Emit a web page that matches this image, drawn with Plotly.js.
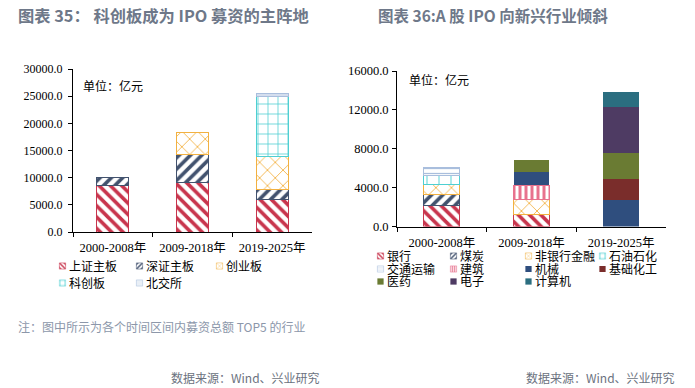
<!DOCTYPE html>
<html>
<head>
<meta charset="utf-8">
<script src="https://cdn.plot.ly/plotly-3.0.1.min.js"></script>
<style>
html,body{margin:0;padding:0;background:#fff;}
#chart{width:695px;height:388px;}
</style>
</head>
<body>
<div id="chart"></div>
<script>
// ---- Data: chart 35 (left) ----
const periods = ['2000-2008年', '2009-2018年', '2019-2025年'];
const boardNames = ['上证主板', '深证主板', '创业板', '科创板', '北交所'];
const shMain   = [8600, 9200, 6000];
const szMain   = [1350, 5000, 1800];
const chiNext  = [null, 4050, 6100];
const star     = [null, null, 11000];
const bse      = [null, null, 500];

// ---- Data: chart 36 (right) ----
const industryNames = ['银行', '煤炭', '非银行金融', '石油石化', '交通运输', '建筑', '机械', '基础化工', '医药', '电子', '计算机'];
const bank        = [2160, 1240, null];
const coal        = [1090, null, null];
const nonbank     = [1030, 1540, null];
const petro       = [970, null, null];
const transport   = [820, null, null];
const construct   = [null, 1440, null];
const machinery   = [null, 1400, 2710];
const chemicals   = [null, null, 2160];
const pharma      = [null, 1240, 2680];
const electronics = [null, null, 4740];
const computer    = [null, null, 1570];

const yTicksLeft = [0, 5000, 10000, 15000, 20000, 25000, 30000];
const yTicksRight = [0, 4000, 8000, 12000, 16000];

// ---- Styles ----
const RED = '#C8354D', NAVY = '#42526E', ORANGE = '#F2B141', TEAL = '#4ECFD2', LBLUE = '#A9BEDD', PINK = '#E8728E';
const styles = {
  '上证主板': {shape: '\\', fg: RED, size: 8, sol: 0.45},
  '深证主板': {shape: '/', fg: NAVY, size: 8, sol: 0.45},
  '创业板': {shape: 'x', fg: ORANGE, size: 11, sol: 0.15},
  '科创板': {shape: '+', fg: TEAL, size: 10, sol: 0.15},
  '北交所': {shape: '-', fg: LBLUE, size: 4, sol: 0.25},
  '银行': {shape: '\\', fg: RED, size: 8, sol: 0.45},
  '煤炭': {shape: '/', fg: NAVY, size: 8, sol: 0.45},
  '非银行金融': {shape: 'x', fg: ORANGE, size: 11, sol: 0.15},
  '石油石化': {shape: '+', fg: TEAL, size: 12, sol: 0.15},
  '交通运输': {shape: '-', fg: LBLUE, size: 5, sol: 0.25},
  '建筑': {shape: '|', fg: PINK, size: 6, sol: 0.5},
  '机械': {solid: '#2F4E7E'},
  '基础化工': {solid: '#7A2D2B'},
  '医药': {solid: '#6A7B33'},
  '电子': {solid: '#4E3B63'},
  '计算机': {solid: '#2B6E80'}
};

// legend entry positions (text left x, row centre y) in px
const legendPos = {
  '上证主板': [69, 266], '深证主板': [146, 266], '创业板': [226, 266],
  '科创板': [69, 283], '北交所': [146, 283],
  '银行': [387, 256], '煤炭': [460, 256], '非银行金融': [535, 256], '石油石化': [609, 256],
  '交通运输': [387, 269], '建筑': [460, 269], '机械': [535, 269], '基础化工': [609, 269],
  '医药': [387, 281.5], '电子': [460, 281.5], '计算机': [535, 281.5]
};

const W = 695, H = 388;
const px = v => v / W, py = v => 1 - v / H;
const CJK = '"Noto Sans CJK SC", sans-serif';
const SERIF = '"Liberation Serif", "Noto Sans CJK SC", serif';

let legendCount = 0;
const legendLayouts = {};
function barTrace(name, values, xa, ya) {
  const s = styles[name];
  legendCount += 1;
  const lid = legendCount === 1 ? 'legend' : 'legend' + legendCount;
  const pos = legendPos[name];
  legendLayouts[lid] = {x: px(pos[0] - 40), y: py(pos[1]), xanchor: 'left', yanchor: 'middle', orientation: 'v',
    font: {family: CJK, size: 12, color: '#000'}, bgcolor: 'rgba(0,0,0,0)', borderwidth: 0,
    itemclick: false, itemdoubleclick: false};
  const marker = s.solid
    ? {color: s.solid, line: {width: 0}}
    : {color: '#ffffff', line: {color: s.fg, width: 1},
       pattern: {shape: s.shape, fgcolor: s.fg, bgcolor: '#ffffff', fgopacity: 1, size: s.size, solidity: s.sol, fillmode: 'replace'}};
  return {type: 'bar', name: name, x: periods, y: values, xaxis: xa, yaxis: ya, legend: lid, marker: marker, hoverinfo: 'skip'};
}

const leftSeries = [shMain, szMain, chiNext, star, bse];
const rightSeries = [bank, coal, nonbank, petro, transport, construct, machinery, chemicals, pharma, electronics, computer];

const traces = [];
boardNames.forEach((n, i) => traces.push(barTrace(n, leftSeries[i], 'x', 'y')));
industryNames.forEach((n, i) => traces.push(barTrace(n, rightSeries[i], 'x2', 'y2')));

const xaxisCommon = {type: 'category', showline: true, linecolor: '#000', linewidth: 1, ticks: 'outside', ticklen: 4, tickcolor: '#000',
  tickson: 'boundaries', showgrid: false, zeroline: false, ticklabelstandoff: 4,
  tickfont: {family: SERIF, size: 12.5, color: '#000'}, fixedrange: true};
const yaxisCommon = {showline: true, linecolor: '#000', linewidth: 1, ticks: 'outside', ticklen: 4, tickcolor: '#000',
  showgrid: false, zeroline: false, tickformat: '.1f', fixedrange: true};

const layout = Object.assign({
  width: W, height: H,
  margin: {l: 0, r: 0, t: 0, b: 0},
  paper_bgcolor: '#fff', plot_bgcolor: '#fff',
  barmode: 'stack', bargap: 0.6,
  showlegend: true,
  xaxis: Object.assign({}, xaxisCommon, {domain: [px(73), px(312)], anchor: 'y'}),
  yaxis: Object.assign({}, yaxisCommon, {domain: [py(232), py(69)], range: [0, 30000], tickvals: yTicksLeft, anchor: 'x',
    ticklabelstandoff: 3, tickfont: {family: SERIF, size: 12, color: '#000'}}),
  xaxis2: Object.assign({}, xaxisCommon, {domain: [px(397), px(666)], anchor: 'y2'}),
  yaxis2: Object.assign({}, yaxisCommon, {domain: [py(226.5), py(71)], range: [0, 16000], tickvals: yTicksRight, anchor: 'x2',
    ticklabelstandoff: 1, tickfont: {family: SERIF, size: 12.5, color: '#000'}}),
  annotations: [
    {text: '图表 35：\u00a0科创板成为 IPO 募资的主阵地', xref: 'paper', yref: 'paper', x: px(16), y: py(15), xanchor: 'left', yanchor: 'middle', showarrow: false,
     font: {family: CJK, size: 16.3, color: '#6E7889', weight: 'bold'}},
    {text: '图表 36:A 股 IPO 向新兴行业倾斜', xref: 'paper', yref: 'paper', x: px(376), y: py(15), xanchor: 'left', yanchor: 'middle', showarrow: false,
     font: {family: CJK, size: 15.5, color: '#6E7889', weight: 'bold'}},
    {text: '单位：亿元', xref: 'paper', yref: 'paper', x: px(81), y: py(85), xanchor: 'left', yanchor: 'middle', showarrow: false,
     font: {family: CJK, size: 12, color: '#000'}},
    {text: '单位：亿元', xref: 'paper', yref: 'paper', x: px(407), y: py(80), xanchor: 'left', yanchor: 'middle', showarrow: false,
     font: {family: CJK, size: 12, color: '#000'}},
    {text: '注：图中所示为各个时间区间内募资总额 TOP5 的行业', xref: 'paper', yref: 'paper', x: px(16), y: py(326), xanchor: 'left', yanchor: 'middle', showarrow: false,
     font: {family: CJK, size: 12, color: '#8C97AA'}},
    {text: '数据来源：Wind、兴业研究', xref: 'paper', yref: 'paper', x: px(322), y: py(377), xanchor: 'right', yanchor: 'middle', showarrow: false,
     font: {family: CJK, size: 12, color: '#6B7280'}},
    {text: '数据来源：Wind、兴业研究', xref: 'paper', yref: 'paper', x: px(677), y: py(377), xanchor: 'right', yanchor: 'middle', showarrow: false,
     font: {family: CJK, size: 12, color: '#6B7280'}}
  ]
}, legendLayouts);

// shrink legend swatches and place them just left of their labels
function tidyLegendSymbols(gd) {
  gd.querySelectorAll('g.traces').forEach(item => {
    try {
      const pts = item.querySelector('g.legendpoints');
      const txt = item.querySelector('text');
      if (!pts || !txt) return;
      pts.removeAttribute('transform');
      const bb = pts.getBBox();
      const cx = bb.x + bb.width / 2, cy = bb.y + bb.height / 2;
      const tr = txt.getBoundingClientRect(), pr = pts.getBoundingClientRect();
      const dx = (tr.left - 6.5) - (pr.left + pr.width / 2);
      const s = 0.52;
      pts.setAttribute('transform', 'translate(' + (cx + dx) + ',' + cy + ') scale(' + s + ') translate(' + (-cx) + ',' + (-cy) + ')');
    } catch (e) { /* ignore */ }
  });
}

const gdEl = document.getElementById('chart');
Plotly.newPlot(gdEl, traces, layout, {staticPlot: true, displayModeBar: false}).then(gd => {
  tidyLegendSymbols(gd);
});
</script>
</body>
</html>
